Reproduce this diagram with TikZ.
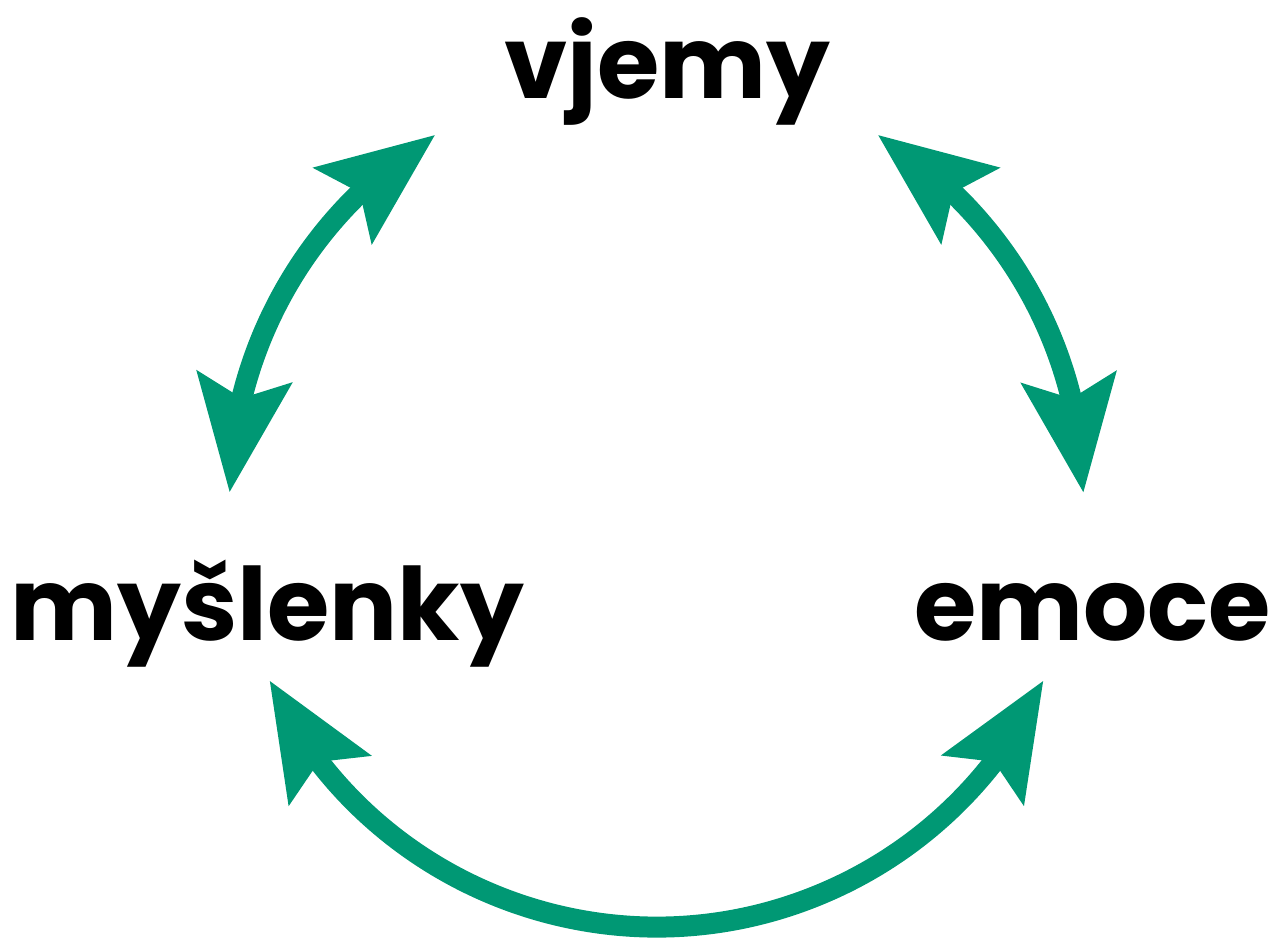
\documentclass[tikz,border=0pt]{standalone}
\usepackage{fontspec}
\setmainfont{Poppins}
\usetikzlibrary{arrows.meta,bending,calc}
\definecolor{cyclegreen}{RGB}{0,152,116}
\begin{document}
\begin{tikzpicture}[x=1pt,y=1pt,
  word/.style={anchor=base,inner sep=0pt,font=\fontsize{101}{105}\selectfont\bfseries},
  cyc/.style={draw=cyclegreen,line width=21pt,
    {Stealth[length=115pt,width=93pt,inset=20pt,flex]}-{Stealth[length=115pt,width=93pt,inset=20pt,flex]}}]
\useasboundingbox (0,0) rectangle (1280,938);
\coordinate (O) at (656.5,438);
\node[word] (vjemy) at (667.5,839) {vjemy};
\node[word] (mysl) at (267.5,297) {myšlenky};
\node[word] (emoce) at (1092.5,297) {emoce};
\coordinate (lA) at ($(O)+(179:427)$);
\coordinate (rA) at ($(O)+(58.8:427)$);
\coordinate (bA) at ($(O)+(205:427)$);
\draw[cyc] (lA) arc[start angle=179,end angle=121.2,radius=427];
\draw[cyc] (rA) arc[start angle=58.8,end angle=0.95,radius=427];
\draw[cyc] (bA) arc[start angle=205,end angle=335,radius=427];
\end{tikzpicture}
\end{document}
